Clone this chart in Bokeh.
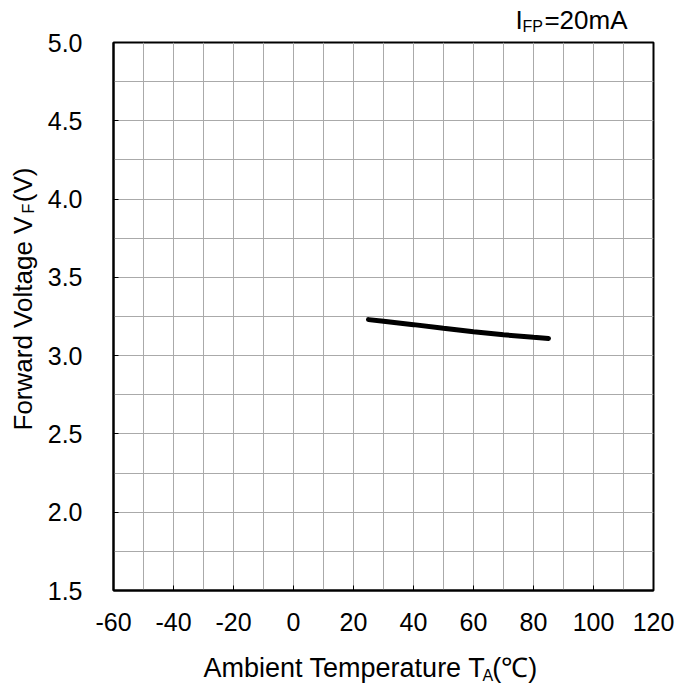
import math
from bokeh.plotting import figure
from bokeh.models import Range1d, FixedTicker, SingleIntervalTicker, Label
from bokeh.embed import file_html
from bokeh.resources import INLINE

# ---- data ----
temps = [25, 30, 40, 50, 60, 70, 80, 85]
vf = [3.230, 3.220, 3.198, 3.175, 3.153, 3.133, 3.117, 3.110]

x_ticks = [-60, -40, -20, 0, 20, 40, 60, 80, 100, 120]
x_tick_labels = ["-60", "-40", "-20", "0", "20", "40", "60", "80", "100", "120"]
y_ticks = [1.5, 2.0, 2.5, 3.0, 3.5, 4.0, 4.5, 5.0]
y_tick_labels = ["1.5", "2.0", "2.5", "3.0", "3.5", "4.0", "4.5", "5.0"]

FONT = "Liberation Sans"
NB = "\u00a0"

p = figure(width=677, height=686,
           x_range=Range1d(-60, 120), y_range=Range1d(1.5, 5.0),
           output_backend="svg", toolbar_location=None,
           min_border_left=113, min_border_right=24,
           min_border_top=42, min_border_bottom=96,
           background_fill_color="white", border_fill_color="white")

p.outline_line_color = "black"
p.outline_line_width = 2
p.outline_line_alpha = 1.0

# grid
p.xgrid.ticker = SingleIntervalTicker(interval=10)
p.ygrid.ticker = SingleIntervalTicker(interval=0.25)
for g in (p.xgrid, p.ygrid):
    g.grid_line_color = "#aaaaaa"
    g.grid_line_width = 1

# axes
p.xaxis.ticker = FixedTicker(ticks=x_ticks, minor_ticks=[])
p.yaxis.ticker = FixedTicker(ticks=y_ticks, minor_ticks=[])
p.xaxis.major_label_overrides = dict(zip(x_ticks, x_tick_labels))
p.yaxis.major_label_overrides = dict(zip(y_ticks, y_tick_labels))
for ax in (p.xaxis, p.yaxis):
    ax.axis_line_color = "black"
    ax.axis_line_width = 2
    ax.major_tick_in = 5
    ax.major_tick_out = 0
    ax.major_tick_line_color = "black"
    ax.major_tick_line_width = 1
    ax.minor_tick_line_color = None
    ax.major_label_text_font = FONT
    ax.major_label_text_font_size = "25px"
    ax.major_label_text_color = "black"
p.xaxis.major_label_standoff = 22
p.yaxis.major_label_standoff = 31

# curve
p.line(temps, vf, line_width=5, line_color="black", line_cap="round")

# ---- text (data units; put in side panels so they are not clipped) ----
def lab(side, x, y, text, size, align, angle=0.0):
    p.add_layout(Label(x=x, y=y, text=text, x_units="data", y_units="data",
                       text_font=FONT, text_font_size=size, text_color="black",
                       text_align=align, text_baseline="alphabetic", angle=angle),
                 side)

# title  I_FP=20mA
lab("above", 74.0, 5.1437, "I" + NB * 3 + "=20mA", "26px", "left")
lab("right", 76.33, 5.099, "FP", "16px", "left")

# x-axis title  Ambient Temperature T_A(℃)
lab("below", -30.0, 1.0075, "Ambient Temperature T" + NB * 1 + "(℃)", "27px", "left")
lab("left", 63.0, 0.9603, "A", "16px", "left")

# y-axis title  Forward Voltage V_F(V)
lab("left", -90.17, 2.522, "Forward Voltage V" + NB * 2 + "(V)", "26px", "left", math.pi / 2)
lab("below", -88.17, 3.908, "F", "16px", "left", math.pi / 2)

open("out.html", "w").write(file_html(p, INLINE))
